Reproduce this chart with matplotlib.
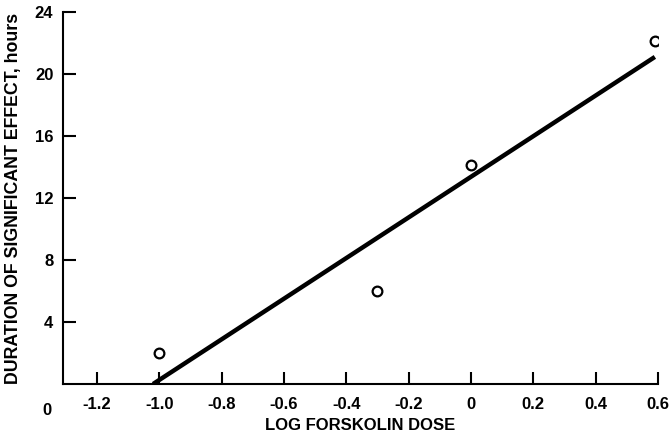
import numpy as np
import matplotlib.pyplot as plt

plt.rcParams['font.family'] = ['Liberation Sans', 'DejaVu Sans']

# Observed points (log dose, hours)
log_dose = [-1.0, -0.3, 0.0, 0.59]
duration = [2.0, 6.0, 14.1, 22.15]

# Fitted regression line endpoints
fit_x = [-1.02, 0.59]
fit_y = [0.0, 21.1]

x_ticks = [-1.2, -1.0, -0.8, -0.6, -0.4, -0.2, 0, 0.2, 0.4, 0.6]
x_labels = ['-1.2', '-1.0', '-0.8', '-0.6', '-0.4', '-0.2', '0', '0.2', '0.4', '0.6']
y_ticks = [4, 8, 12, 16, 20, 24]

fig = plt.figure(figsize=(6.71, 4.34), dpi=100)
ax = fig.add_axes([0.0939, 0.1152, 0.8867, 0.8572])

ax.plot(fit_x, fit_y, color='black', linewidth=3.2, solid_capstyle='butt')
ax.plot(log_dose, duration, 'o', markersize=7, markerfacecolor='white',
        markeredgecolor='black', markeredgewidth=1.6)

ax.set_xlim(-1.309, 0.6)
ax.set_ylim(0, 24)

ax.spines['top'].set_visible(False)
ax.spines['right'].set_visible(False)
for s in ['left', 'bottom']:
    ax.spines[s].set_linewidth(1.5)

ax.set_xticks(x_ticks)
ax.set_xticklabels(x_labels)
ax.set_yticks(y_ticks)
ax.tick_params(direction='in', length=9, width=1.5)
ax.tick_params(axis='x', pad=9)
ax.tick_params(axis='y', pad=7)
for lbl in ax.get_xticklabels() + ax.get_yticklabels():
    lbl.set_fontsize(12)
    lbl.set_fontweight('bold')

# origin label
ax.text(-0.027, -0.05, '0', transform=ax.transAxes, ha='center', va='top',
        fontsize=12, fontweight='bold')

ax.set_xlabel('LOG FORSKOLIN DOSE', fontsize=12, fontweight='bold', labelpad=5)
ax.set_ylabel('DURATION OF SIGNIFICANT EFFECT, hours', fontsize=12.8,
              fontweight='bold', labelpad=9)

fig.savefig('out.png', dpi=100)
